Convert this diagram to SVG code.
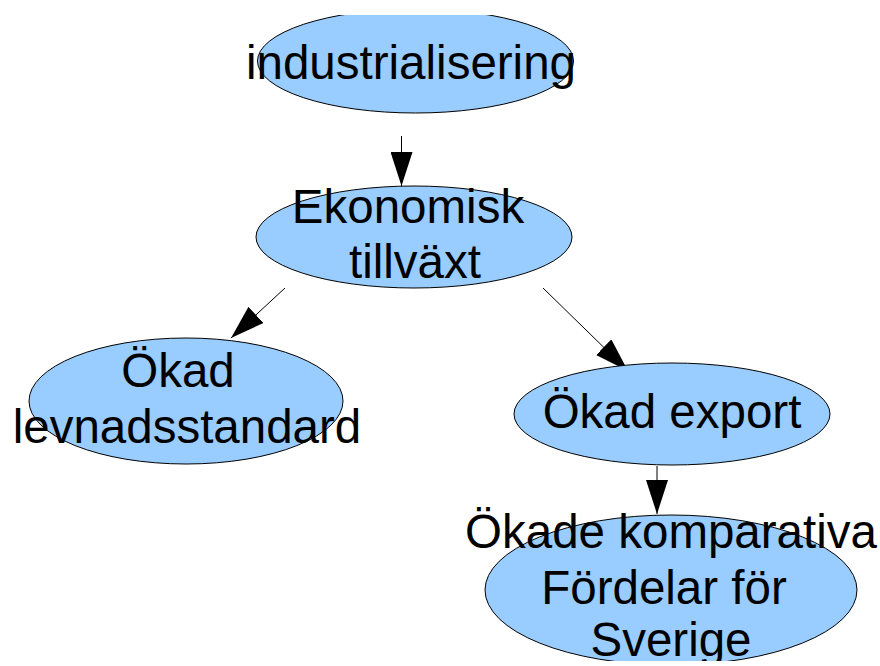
<svg xmlns="http://www.w3.org/2000/svg" width="880" height="666" viewBox="0 0 880 666">
<style>
.node ellipse{fill:#99ccff;stroke:#000;stroke-width:1}
.node text{font-family:"Liberation Sans",Arial,sans-serif;font-size:47.5px;fill:#000;text-anchor:middle}
.conn line{stroke:#000;stroke-width:1;marker-end:url(#ah)}
</style>
<defs>
<marker id="ah" viewBox="0 0 34 22" refX="34" refY="11" markerWidth="34" markerHeight="22" markerUnits="userSpaceOnUse" orient="auto">
<path d="M0,0 L34,11 L0,22 Z" fill="#000"/>
</marker>
<clipPath id="topclip"><rect x="0" y="15" width="880" height="651"/></clipPath>
<clipPath id="botclip"><rect x="0" y="0" width="880" height="661"/></clipPath>
</defs>
<rect width="880" height="666" fill="#fff"/>
<g class="conn">
<line x1="401.5" y1="136" x2="401.5" y2="186"/>
<line x1="285" y1="288" x2="231" y2="338"/>
<line x1="543" y1="288" x2="628" y2="371"/>
<line x1="657" y1="466" x2="657" y2="514"/>
</g>
<g id="industrialisering" class="node">
<ellipse cx="415.5" cy="61" rx="158" ry="52" clip-path="url(#topclip)"/>
<text x="411" y="79">industrialisering</text>
</g>
<g id="ekonomisk" class="node">
<ellipse cx="414" cy="237" rx="158" ry="51"/>
<text x="408" y="223">Ekonomisk</text>
<text x="415" y="278">tillväxt</text>
</g>
<g id="levnadsstandard" class="node">
<ellipse cx="186" cy="401" rx="157" ry="63"/>
<text x="178" y="387">Ökad</text>
<text x="187" y="443">levnadsstandard</text>
</g>
<g id="export" class="node">
<ellipse cx="672" cy="414" rx="158" ry="51"/>
<text x="672" y="428">Ökad export</text>
</g>
<g id="komparativa" class="node" clip-path="url(#botclip)">
<ellipse cx="671" cy="590" rx="186" ry="75"/>
<text x="671" y="548">Ökade komparativa</text>
<text x="664" y="604">Fördelar för</text>
<text x="671" y="656">Sverige</text>
</g>
</svg>
